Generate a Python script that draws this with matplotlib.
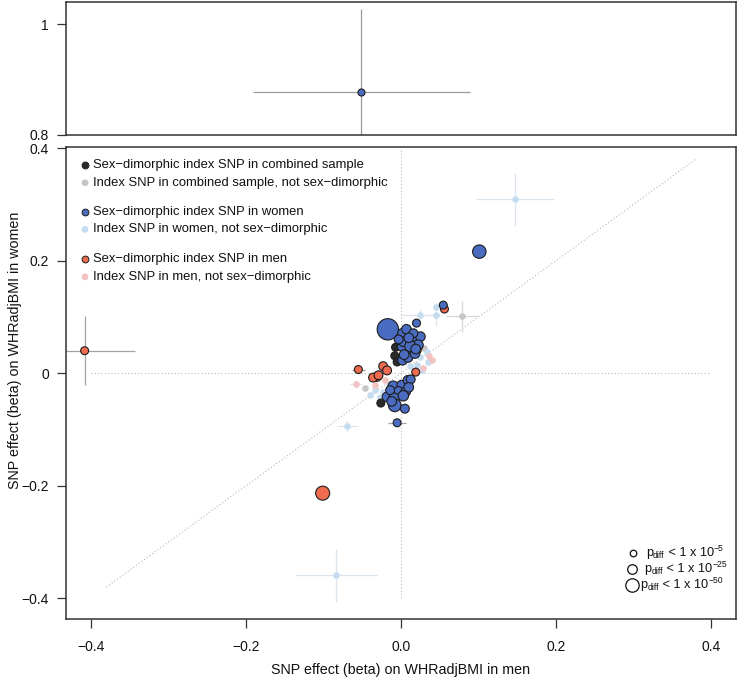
import matplotlib
matplotlib.use('Agg')
import matplotlib.pyplot as plt
import numpy as np

plt.rcParams['font.family'] = ['Liberation Sans', 'DejaVu Sans']
plt.rcParams['axes.unicode_minus'] = True

# ---------------- data ----------------
# sex-dimorphic index SNPs in combined sample (black)
comb_sig_x = [-0.007, -0.008, -0.026, -0.005]
comb_sig_y = [0.046, 0.031, -0.053, 0.020]
comb_sig_lp = [14, 14, 14, 14]          # -log10 p_diff

# index SNPs in combined sample, not sex-dimorphic (grey)
comb_ns_x = [0.079, -0.046, 0.030]
comb_ns_y = [0.101, -0.026, 0.044]

# sex-dimorphic index SNPs in women (blue)
women_sig_x = [0.0545, 0.020, -0.017, 0.002, 0.007, 0.015, 0.025, 0.022, 0.007, 0.002,
               0.009, 0.018, 0.001, 0.003, 0.012, 0.004, -0.003, 0.016, 0.101,
               0.010, 0.019,
               -0.018, -0.010, 0.001, 0.009, 0.0125, -0.003, 0.006, -0.009, -0.008,
               0.005, -0.005, 0.003, -0.014, -0.012, 0.010]
women_sig_y = [0.121, 0.089, 0.078, 0.071, 0.078, 0.059, 0.065, 0.050, 0.041, 0.023,
               0.028, 0.035, 0.047, 0.056, 0.048, 0.033, 0.060, 0.071, 0.216,
               0.063, 0.043,
               -0.042, -0.023, -0.021, -0.0125, -0.011, -0.033, -0.033, -0.045, -0.057,
               -0.063, -0.088, -0.040, -0.030, -0.050, -0.025]
women_sig_lp = [14, 14, 102, 25, 25, 41, 25, 30, 35, 25,
                25, 25, 20, 25, 35, 25, 20, 20, 50,
                25, 25,
                25, 30, 25, 25, 20, 30, 25, 35, 45,
                20, 14, 30, 20, 25, 25]

# index SNPs in women, not sex-dimorphic (light blue)
women_ns_x = [0.147, 0.045, 0.0245, 0.0447, 0.033, 0.035, 0.020, 0.012, 0.027, -0.040,
              -0.023, -0.027, -0.069, -0.084, -0.015, 0.025, -0.033]
women_ns_y = [0.309, 0.118, 0.104, 0.104, 0.038, 0.020, 0.014, 0.012, 0.005, -0.039,
              -0.033, -0.042, -0.094, -0.359, -0.020, 0.028, -0.030]

# sex-dimorphic index SNPs in men (red)
men_sig_x = [-0.408, -0.101, 0.056, 0.0215, -0.055, -0.023, -0.018, -0.031, -0.036, 0.019, -0.029]
men_sig_y = [0.040, -0.213, 0.114, 0.041, 0.0066, 0.0125, 0.005, -0.0065, -0.0077, 0.002, -0.0036]
men_sig_lp = [14, 54, 14, 8, 14, 20, 20, 20, 20, 14, 20]

# index SNPs in men, not sex-dimorphic (pink)
men_ns_x = [-0.058, -0.0335, 0.040, 0.029, 0.036, -0.020]
men_ns_y = [-0.020, -0.021, 0.023, 0.010, 0.030, -0.012]

# visible confidence intervals (centre, half widths, group)
ci_x = [-0.408, 0.147, -0.084, -0.069, 0.079, -0.005, 0.0245, 0.0447, -0.055, -0.058]
ci_y = [0.040, 0.309, -0.359, -0.094, 0.101, -0.088, 0.104, 0.104, 0.0066, -0.020]
ci_hx = [0.065, 0.050, 0.053, 0.014, 0.021, 0.012, 0.025, 0.006, 0.008, 0.008]
ci_hy = [0.061, 0.047, 0.047, 0.010, 0.027, 0.006, 0.010, 0.020, 0.006, 0.006]
ci_group = ['sig', 'women_ns', 'women_ns', 'women_ns', 'comb_ns', 'sig', 'women_ns',
            'women_ns', 'sig', 'men_ns']

# outlier SNP (women, sex-dimorphic) shown in upper panel
top_x = [-0.051]
top_y = [0.877]
top_hx = [0.14]
top_hy = [0.15]
top_lp = [8]

x_ticks = [-0.4, -0.2, 0.0, 0.2, 0.4]
x_ticklabels = ['\u22120.4', '\u22120.2', '0.0', '0.2', '0.4']
y_ticks = [-0.4, -0.2, 0.0, 0.2, 0.4]
y_ticklabels = ['\u22120.4', '\u22120.2', '0', '0.2', '0.4']
top_ticks = [0.8, 1.0]
top_ticklabels = ['0.8', '1']

legend_labels = ['Sex\u2212dimorphic index SNP in combined sample',
                 'Index SNP in combined sample, not sex\u2212dimorphic',
                 'Sex\u2212dimorphic index SNP in women',
                 'Index SNP in women, not sex\u2212dimorphic',
                 'Sex\u2212dimorphic index SNP in men',
                 'Index SNP in men, not sex\u2212dimorphic']
size_legend_lp = [5, 25, 50]
size_legend_exp = ['\u22125', '\u221225', '\u221250']

# ---------------- style ----------------
C_BLACK = '#2a2a2a'
C_GREY = '#c6c6c6'
C_BLUE = '#4a6cc0'
C_LBLUE = '#c5dbef'
C_RED = '#ef6b4f'
C_PINK = '#f3c3c4'
EDGE = '#1c1c1c'
CI_COL = {'sig': '#a3a3a3', 'women_ns': '#dce5ee', 'comb_ns': '#d6d6d6', 'men_ns': '#f2dcdc'}
SPINE = '#333333'
TXT = '#111111'


def rad(lp):
    return 2.9 + 0.076 * np.asarray(lp, dtype=float)


def s_of_r(r):
    return (2 * np.asarray(r) * 0.72) ** 2


NS_S = s_of_r(3.3)

W, H = 751, 688
fig = plt.figure(figsize=(W / 100, H / 100), dpi=100)


def px_axes(l, t, r, b):
    return fig.add_axes([l / W, 1 - b / H, (r - l) / W, (b - t) / H])


ax_top = px_axes(66, 1.5, 736, 135)
ax = px_axes(66, 147, 736, 618.5)

XL = (-0.432, 0.432)

for a in (ax_top, ax):
    for sp in a.spines.values():
        sp.set_color(SPINE)
        sp.set_linewidth(1.1)
    a.tick_params(direction='out', length=6.3, width=0.9, color=SPINE, labelsize=10,
                  labelcolor=TXT)
    a.set_xlim(*XL)

# ---- top panel ----
ax_top.set_ylim(0.8, 1.0414)
ax_top.set_yticks(top_ticks)
ax_top.set_yticklabels(top_ticklabels)
ax_top.set_xticks([])
ax_top.tick_params(axis='y', pad=6)
ax_top.errorbar(top_x, top_y, xerr=top_hx, yerr=top_hy, fmt='none', ecolor='#9a9a9a',
                elinewidth=0.9, capsize=0, zorder=1)
ax_top.scatter(top_x, top_y, s=s_of_r(rad(top_lp)), c=C_BLUE, edgecolors=EDGE,
               linewidths=0.8, zorder=3)

# ---- main panel ----
ax.set_ylim(-0.4356, 0.4018)
ax.set_xticks(x_ticks)
ax.set_xticklabels(x_ticklabels)
ax.set_yticks(y_ticks)
ax.set_yticklabels(y_ticklabels)
ax.tick_params(axis='x', pad=9)
ax.tick_params(axis='y', pad=6)

ref_kw = dict(color='#b8b8b8', linestyle=(0, (1, 2)), linewidth=0.8, zorder=0)
ax.plot([0, 0], [-0.4, 0.4], **ref_kw)
ax.plot([-0.4, 0.4], [0, 0], **ref_kw)
ax.plot([-0.38, 0.38], [-0.38, 0.38], **ref_kw)

for x, y, hx, hy, g in zip(ci_x, ci_y, ci_hx, ci_hy, ci_group):
    ax.errorbar([x], [y], xerr=[hx], yerr=[hy], fmt='none', ecolor=CI_COL[g],
                elinewidth=0.9, capsize=0, zorder=1)

ax.scatter(comb_ns_x, comb_ns_y, s=NS_S, c=C_GREY, linewidths=0, zorder=2)
ax.scatter(women_ns_x, women_ns_y, s=NS_S, c=C_LBLUE, linewidths=0, zorder=2)
ax.scatter(men_ns_x, men_ns_y, s=NS_S, c=C_PINK, linewidths=0, zorder=2)
ax.scatter(comb_sig_x, comb_sig_y, s=s_of_r(rad(comb_sig_lp)), c=C_BLACK, edgecolors=EDGE,
           linewidths=0.8, zorder=3)
ax.scatter(men_sig_x, men_sig_y, s=s_of_r(rad(men_sig_lp)), c=C_RED, edgecolors=EDGE,
           linewidths=0.8, zorder=4)
ax.scatter(women_sig_x, women_sig_y, s=s_of_r(rad(women_sig_lp)), c=C_BLUE, edgecolors=EDGE,
           linewidths=0.8, zorder=5)

# ---- colour legend (top-left) ----
leg_cols = [C_BLACK, C_GREY, C_BLUE, C_LBLUE, C_RED, C_PINK]
leg_edge = [True, False, True, False, True, False]
leg_y = [0.9618, 0.9242, 0.8614, 0.8253, 0.7622, 0.7246]
for lab, col, e, yy in zip(legend_labels, leg_cols, leg_edge, leg_y):
    ax.scatter([0.0284], [yy], s=s_of_r(3.4), c=col, edgecolors=EDGE if e else 'none',
               linewidths=0.7 if e else 0, transform=ax.transAxes, zorder=6, clip_on=False)
    ax.text(0.0405, yy, lab, transform=ax.transAxes, fontsize=9.4, va='center',
            ha='left', color=TXT, zorder=6)

# ---- size legend (bottom-right) ----
sl_x = [0.8467, 0.8452, 0.8443]
sl_tx = [0.8652, 0.8631, 0.8567]
sl_y = [0.1390, 0.1055, 0.0710]
for lp, ex, xx, tx, yy in zip(size_legend_lp, size_legend_exp, sl_x, sl_tx, sl_y):
    ax.scatter([xx], [yy], s=s_of_r(rad(lp)), facecolors='white', edgecolors=TXT,
               linewidths=0.9, transform=ax.transAxes, zorder=6)
    t_p = ax.text(tx, yy, 'p', transform=ax.transAxes, fontsize=9.2, va='center',
                  ha='left', color=TXT)
    t_d = ax.annotate('diff', xy=(1, 0.5), xycoords=t_p, xytext=(0.2, -2.0),
                      textcoords='offset points', fontsize=6.2, va='center', ha='left',
                      color=TXT)
    t_m = ax.annotate(' < 1 x 10', xy=(1, 0.5), xycoords=(t_d, t_p), xytext=(0, 0),
                      textcoords='offset points', fontsize=9.2, va='center', ha='left',
                      color=TXT)
    ax.annotate(ex, xy=(1, 0.5), xycoords=(t_m, t_p), xytext=(0.2, 3.0),
                textcoords='offset points', fontsize=6.2, va='center', ha='left', color=TXT)

# ---- axis titles ----
fig.text(401 / W, 1 - 670 / H, 'SNP effect (beta) on WHRadjBMI in men', ha='center',
         va='center', fontsize=10.3, color=TXT)
fig.text(15 / W, 1 - 350 / H, 'SNP effect (beta) on WHRadjBMI in women', ha='center',
         va='center', rotation=90, fontsize=10.3, color=TXT)

fig.savefig('out.png', dpi=100)
